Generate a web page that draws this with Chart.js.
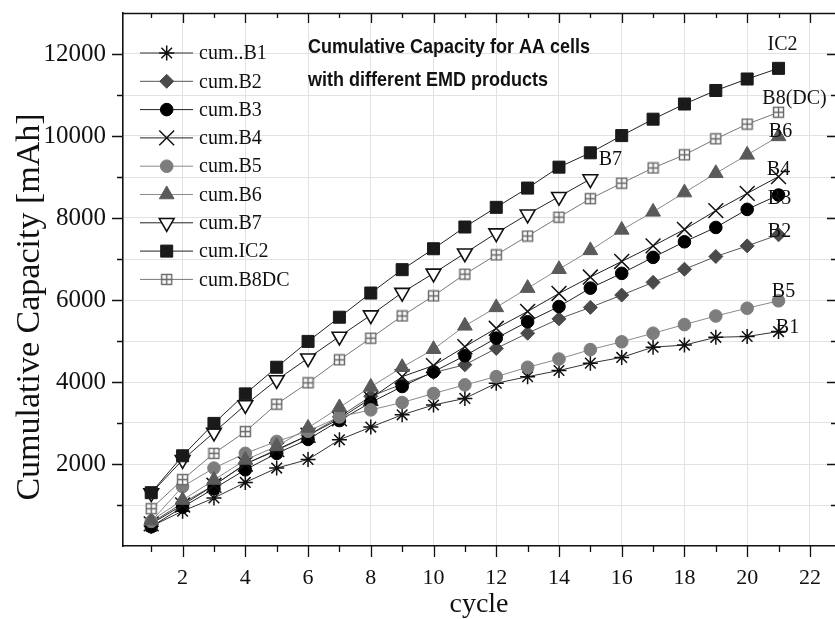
<!DOCTYPE html>
<html>
<head>
<meta charset="utf-8">
<script src="https://cdn.jsdelivr.net/npm/chart.js@4.4.1/dist/chart.umd.min.js"></script>
<style>
  html, body { margin: 0; padding: 0; background: #fff; }
  #wrap { width: 835px; height: 619px; }
</style>
</head>
<body>
<div id="wrap"><canvas id="grafico" width="835" height="619"></canvas></div>
<script>
// ciclos e marcas dos eixos
const cycles = [1, 2, 3, 4, 5, 6, 7, 8, 9, 10, 11, 12, 13, 14, 15, 16, 17, 18, 19, 20, 21];
const xTicks = [1, 2, 3, 4, 5, 6, 7, 8, 9, 10, 11, 12, 13, 14, 15, 16, 17, 18, 19, 20, 21, 22];
const yTicks = [1000, 2000, 3000, 4000, 5000, 6000, 7000, 8000, 9000, 10000, 11000, 12000];

const seriesNames = ["cum..B1", "cum.B2", "cum.B3", "cum.B4", "cum.B5", "cum.B6", "cum.B7", "cum.IC2", "cum.B8DC"];
const endLabels = ["B1", "B2", "B3", "B4", "B5", "B6", "B7", "IC2", "B8(DC)"];
const titleLines = ["Cumulative Capacity for AA cells", "with different EMD products"];
const yTitle = "Cumulative Capacity [mAh]";

// capacidade acumulada (mAh)
const cumB1 = [480, 850, 1170, 1550, 1900, 2110, 2590, 2900, 3200, 3440, 3600, 3970, 4130, 4280, 4460, 4600, 4850, 4900, 5090, 5110, 5230];
const cumB2 = [560, 1050, 1480, 2000, 2330, 2700, 3150, 3650, 3950, 4230, 4420, 4820, 5190, 5540, 5820, 6120, 6430, 6750, 7060, 7320, 7590];
const cumB3 = [470, 950, 1400, 1860, 2260, 2600, 3060, 3500, 3890, 4250, 4640, 5070, 5470, 5840, 6290, 6650, 7040, 7420, 7770, 8210, 8560];
const cumB4 = [540, 1000, 1480, 2000, 2350, 2700, 3100, 3600, 4130, 4400, 4860, 5310, 5720, 6160, 6560, 6940, 7320, 7720, 8180, 8600, 9010];
const cumB5 = [600, 1450, 1900, 2260, 2550, 2800, 3150, 3320, 3500, 3720, 3930, 4130, 4360, 4560, 4790, 4980, 5190, 5400, 5610, 5800, 5980];
const cumB6 = [620, 1120, 1610, 2100, 2430, 2880, 3380, 3880, 4360, 4800, 5370, 5820, 6290, 6750, 7210, 7710, 8150, 8620, 9090, 9540, 9990];
const cumB7 = [1290, 2100, 2770, 3440, 4050, 4580, 5110, 5630, 6180, 6650, 7140, 7630, 8090, 8520, 8950];
const cumIC2 = [1300, 2200, 2990, 3710, 4360, 4990, 5580, 6170, 6740, 7250, 7780, 8260, 8730, 9240, 9590, 10010, 10410, 10780, 11110, 11390, 11650];
const cumB8DC = [910, 1620, 2260, 2790, 3460, 3980, 4540, 5070, 5610, 6100, 6630, 7100, 7560, 8020, 8470, 8850, 9220, 9540, 9930, 10290, 10580];

const allSeries = [cumB1, cumB2, cumB3, cumB4, cumB5, cumB6, cumB7, cumIC2, cumB8DC];

// marcador quadrado com cruz (B8DC)
function quadradoCruz() {
  const c = document.createElement("canvas");
  c.width = 13; c.height = 13;
  const g = c.getContext("2d");
  g.fillStyle = "#fff";
  g.fillRect(1, 1, 11, 11);
  g.strokeStyle = "#666";
  g.lineWidth = 1.4;
  g.strokeRect(1.5, 1.5, 10, 10);
  g.beginPath();
  g.moveTo(6.5, 1.5); g.lineTo(6.5, 11.5);
  g.moveTo(1.5, 6.5); g.lineTo(11.5, 6.5);
  g.stroke();
  return c;
}

const estilos = [
  { pointStyle: "star", radius: 7.5, fill: "#111", stroke: "#111", line: "#333", bw: 1.5 },
  { pointStyle: "rectRot", radius: 7, fill: "#4a4a4a", stroke: "#4a4a4a", line: "#555", bw: 1 },
  { pointStyle: "circle", radius: 6.3, fill: "#000", stroke: "#000", line: "#222", bw: 1 },
  { pointStyle: "crossRot", radius: 10.5, fill: "#111", stroke: "#111", line: "#222", bw: 1.5 },
  { pointStyle: "circle", radius: 6.3, fill: "#7d7d7d", stroke: "#7d7d7d", line: "#8a8a8a", bw: 1 },
  { pointStyle: "triangle", radius: 8.5, fill: "#5a5a5a", stroke: "#5a5a5a", line: "#8a8a8a", bw: 1 },
  { pointStyle: "triangle", radius: 8.5, rotation: 180, fill: "#fff", stroke: "#111", line: "#222", bw: 1.6 },
  { pointStyle: "rect", radius: 8.5, fill: "#1a1a1a", stroke: "#1a1a1a", line: "#222", bw: 1 },
  { pointStyle: quadradoCruz(), radius: 7, fill: "#fff", stroke: "#666", line: "#777", bw: 1 }
];

// deslocamento dos rótulos finais em relação ao último ponto
const labelOffsets = [[9, -4], [1, -3], [1, 4], [0, -7], [5, -9], [2, -5], [20, -19], [4, -24], [16, -13]];

const datasets = allSeries.map((vals, i) => ({
  label: seriesNames[i],
  data: vals.map((v, j) => ({ x: cycles[j], y: v })),
  order: -i,
  borderColor: estilos[i].line,
  borderWidth: 1,
  pointStyle: estilos[i].pointStyle,
  pointRadius: estilos[i].radius,
  pointRotation: estilos[i].rotation || 0,
  pointBackgroundColor: estilos[i].fill,
  pointBorderColor: estilos[i].stroke,
  pointBorderWidth: estilos[i].bw,
  tension: 0,
  fill: false
}));

// moldura e marcas dos eixos
const molduraPlugin = {
  id: "moldura",
  afterDraw(chart) {
    const { ctx, chartArea: a, scales: { x, y } } = chart;
    ctx.save();
    ctx.strokeStyle = "#111";
    ctx.lineWidth = 1.6;
    ctx.beginPath();
    ctx.moveTo(a.left, a.top + 0.5);
    ctx.lineTo(a.right, a.top + 0.5);
    ctx.stroke();
    ctx.lineWidth = 1.3;
    xTicks.forEach(v => {
      const px = Math.round(x.getPixelForValue(v)) + 0.5;
      const major = v % 2 === 0;
      ctx.beginPath();
      ctx.moveTo(px, a.bottom); ctx.lineTo(px, a.bottom + (major ? 11 : 6));
      ctx.moveTo(px, a.top); ctx.lineTo(px, a.top + (major ? 10 : 5));
      ctx.stroke();
    });
    yTicks.forEach(v => {
      const py = Math.round(y.getPixelForValue(v)) + 0.5;
      const major = v % 2000 === 0;
      ctx.beginPath();
      ctx.moveTo(a.left, py); ctx.lineTo(a.left - (major ? 11 : 6), py);
      ctx.moveTo(a.right, py); ctx.lineTo(a.right - (major ? 8 : 4), py);
      ctx.stroke();
    });
    ctx.restore();
  }
};

// título, legenda e rótulos dentro do gráfico
const textosPlugin = {
  id: "textos",
  afterDraw(chart) {
    const { ctx, scales: { x, y } } = chart;
    ctx.save();
    // título do eixo y
    ctx.save();
    ctx.translate(30, 307);
    ctx.rotate(-Math.PI / 2);
    ctx.fillStyle = "#111";
    ctx.font = "34px 'Liberation Serif'";
    ctx.textAlign = "center";
    ctx.textBaseline = "middle";
    ctx.fillText(yTitle, 0, 0);
    ctx.restore();
    // título
    ctx.fillStyle = "#111";
    ctx.font = "bold 18px 'Liberation Sans'";
    ctx.textBaseline = "middle";
    ctx.textAlign = "left";
    titleLines.forEach((t, i) => {
      ctx.save();
      ctx.translate(308, 47 + i * 33);
      ctx.scale(1, 1.15);
      ctx.fillText(t, 0, 0);
      ctx.restore();
    });
    // legenda
    chart.data.datasets.forEach((ds, i) => {
      const ly = 53 + i * 28.3;
      ctx.strokeStyle = ds.borderColor;
      ctx.lineWidth = 1;
      ctx.beginPath();
      ctx.moveTo(140, ly); ctx.lineTo(193, ly);
      ctx.stroke();
      ctx.fillStyle = ds.pointBackgroundColor;
      ctx.strokeStyle = ds.pointBorderColor;
      ctx.lineWidth = ds.pointBorderWidth;
      Chart.helpers.drawPoint(ctx, {
        pointStyle: ds.pointStyle, rotation: ds.pointRotation,
        radius: ds.pointRadius, borderWidth: ds.pointBorderWidth
      }, 166.7, ly);
      ctx.fillStyle = "#111";
      ctx.font = "20px 'Liberation Serif'";
      ctx.textAlign = "left";
      ctx.textBaseline = "middle";
      ctx.fillText(ds.label, 199, ly + 1);
    });
    // rótulos no fim de cada curva
    ctx.font = "20px 'Liberation Serif'";
    ctx.textAlign = "center";
    ctx.textBaseline = "middle";
    ctx.fillStyle = "#111";
    allSeries.forEach((vals, i) => {
      const n = vals.length - 1;
      const px = x.getPixelForValue(cycles[n]) + labelOffsets[i][0];
      const py = y.getPixelForValue(vals[n]) + labelOffsets[i][1];
      ctx.fillText(endLabels[i], px, py);
    });
    ctx.restore();
  }
};

document.addEventListener("DOMContentLoaded", () => {
  const ctx = document.getElementById("grafico").getContext("2d");
  new Chart(ctx, {
    type: "line",
    data: { datasets: datasets },
    options: {
      responsive: false,
      animation: false,
      layout: { autoPadding: false, padding: { top: 13, right: 0, left: 0, bottom: 0 } },
      plugins: {
        legend: { display: false },
        tooltip: { enabled: false },
        title: { display: false }
      },
      scales: {
        x: {
          type: "linear",
          min: 0.1,
          max: 22.8,
          afterBuildTicks: s => { s.ticks = xTicks.map(v => ({ value: v })); },
          afterFit: s => { s.height = 73; s.paddingLeft = 0; s.paddingRight = 0; },
          ticks: {
            autoSkip: false,
            maxRotation: 0,
            padding: 19,
            color: "#111",
            font: { family: "Liberation Serif", size: 22 },
            callback: v => (v % 2 === 0 ? String(v) : "")
          },
          grid: {
            drawTicks: false,
            color: c => (c.tick && c.tick.value % 2 === 0 ? "#e2e2e2" : "rgba(0,0,0,0)"),
            lineWidth: 1
          },
          border: { display: true, color: "#111", width: 1.6 },
          title: {
            display: true,
            text: "cycle",
            color: "#111",
            font: { family: "Liberation Serif", size: 28, lineHeight: 1 },
            padding: 0
          }
        },
        y: {
          min: 0,
          max: 13000,
          afterBuildTicks: s => { s.ticks = yTicks.map(v => ({ value: v })); },
          afterFit: s => { s.width = 123; s.paddingTop = 0; s.paddingBottom = 0; },
          ticks: {
            autoSkip: false,
            padding: 17,
            color: "#111",
            font: { family: "Liberation Serif", size: 25 },
            callback: v => (v % 2000 === 0 ? String(v) : "")
          },
          grid: { drawTicks: false, color: "#e2e2e2", lineWidth: 1 },
          border: { display: true, color: "#111", width: 1.6 },
          title: { display: false }
        }
      }
    },
    plugins: [molduraPlugin, textosPlugin]
  });
});
</script>
</body>
</html>
